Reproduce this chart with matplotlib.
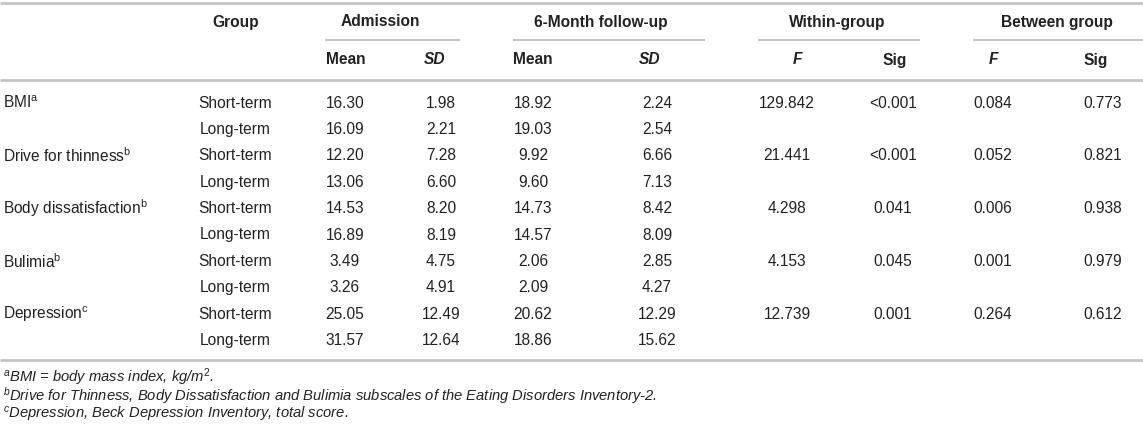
import matplotlib
matplotlib.use("Agg")
from matplotlib import pyplot as plt

# table data
measures = ["BMI", "Drive for thinness", "Body dissatisfaction", "Bulimia", "Depression"]
marks = ["a", "b", "b", "b", "c"]
groups = ["Short-term", "Long-term"]
adm_mean = [["16.30", "16.09"], ["12.20", "13.06"], ["14.53", "16.89"], ["3.49", "3.26"], ["25.05", "31.57"]]
adm_sd = [["1.98", "2.21"], ["7.28", "6.60"], ["8.20", "8.19"], ["4.75", "4.91"], ["12.49", "12.64"]]
fu_mean = [["18.92", "19.03"], ["9.92", "9.60"], ["14.73", "14.57"], ["2.06", "2.09"], ["20.62", "18.86"]]
fu_sd = [["2.24", "2.54"], ["6.66", "7.13"], ["8.42", "8.09"], ["2.85", "4.27"], ["12.29", "15.62"]]
within_f = ["129.842", "21.441", "4.298", "4.153", "12.739"]
within_sig = ["<0.001", "<0.001", "0.041", "0.045", "0.001"]
between_f = ["0.084", "0.052", "0.006", "0.001", "0.264"]
between_sig = ["0.773", "0.821", "0.938", "0.979", "0.612"]

footnotes = [
    r"$^{a}$BMI = body mass index, kg/m$^{2}$.",
    r"$^{b}$Drive for Thinness, Body Dissatisfaction and Bulimia subscales of the Eating Disorders Inventory-2.",
    r"$^{c}$Depression, Beck Depression Inventory, total score.",
]

plt.rcParams["font.family"] = ["Liberation Sans", "DejaVu Sans"]
plt.rcParams["mathtext.fontset"] = "custom"
plt.rcParams["mathtext.rm"] = "Liberation Sans"
plt.rcParams["mathtext.it"] = "Liberation Sans:italic"
plt.rcParams["mathtext.bf"] = "Liberation Sans:bold"

W, H = 1143, 432
fig = plt.figure(figsize=(W / 100, H / 100), dpi=100)
ax = fig.add_axes([0, 0, 1, 1])
ax.set_xlim(0, W)
ax.set_ylim(H, 0)
ax.axis("off")

txt = "#222222"
line_c = "#c4c4c4"
fs = 11.2

# column centres
cx = {"group": 235, "am": 345, "asd": 441, "fm": 533, "fsd": 657,
      "wf": 787, "ws": 893, "bf": 993, "bs": 1103}

# rules
for yy in [3, 80, 360]:
    ax.plot([0, W], [yy, yy], color=line_c, lw=2, solid_capstyle="butt")
for x0, x1 in [(325, 460), (513, 705), (758, 920), (973, W)]:
    ax.plot([x0, x1], [40, 40], color=line_c, lw=1.5, solid_capstyle="butt")

# header row 1
h1 = 22
ax.text(236, h1, "Group", ha="center", va="center", fontsize=fs, fontweight="bold", color=txt)
ax.text(380, h1, "Admission", ha="center", va="center", fontsize=fs, fontweight="bold", color=txt)
ax.text(601, h1, "6-Month follow-up", ha="center", va="center", fontsize=fs, fontweight="bold", color=txt)
ax.text(837, h1, "Within-group", ha="center", va="center", fontsize=fs, fontweight="bold", color=txt)
ax.text(1057, h1, "Between group", ha="center", va="center", fontsize=fs, fontweight="bold", color=txt)

# header row 2
h2 = 60
sub_heads = [(346, "Mean", "normal"), (435, "SD", "italic"), (533, "Mean", "normal"),
             (650, "SD", "italic"), (797, "F", "italic"), (895, "Sig", "normal"),
             (993, "F", "italic"), (1096, "Sig", "normal")]
for x, s, st in sub_heads:
    ax.text(x, h2, s, ha="center", va="center", fontsize=fs, fontweight="bold",
            style=st, color=txt)

# body
y0, dy = 103, 26.4
for i, m in enumerate(measures):
    for j, g in enumerate(groups):
        y = y0 + dy * (2 * i + j)
        if j == 0:
            ax.text(3, y, m + r"$^{\mathrm{" + marks[i] + "}}$", ha="left", va="center",
                    fontsize=fs, color=txt)
            ax.text(cx["wf"], y, within_f[i], ha="center", va="center", fontsize=fs, color=txt)
            ax.text(cx["ws"], y, within_sig[i], ha="center", va="center", fontsize=fs, color=txt)
            ax.text(cx["bf"], y, between_f[i], ha="center", va="center", fontsize=fs, color=txt)
            ax.text(cx["bs"], y, between_sig[i], ha="center", va="center", fontsize=fs, color=txt)
        ax.text(cx["group"], y, g, ha="center", va="center", fontsize=fs, color=txt)
        ax.text(cx["am"], y, adm_mean[i][j], ha="center", va="center", fontsize=fs, color=txt)
        ax.text(cx["asd"], y, adm_sd[i][j], ha="center", va="center", fontsize=fs, color=txt)
        ax.text(cx["fm"], y, fu_mean[i][j], ha="center", va="center", fontsize=fs, color=txt)
        ax.text(cx["fsd"], y, fu_sd[i][j], ha="center", va="center", fontsize=fs, color=txt)

# footnotes
for k, f in enumerate(footnotes):
    ax.text(3, 377 + 19 * k, f, ha="left", va="center", fontsize=10.6, style="italic", color=txt)

plt.savefig("out.png", dpi=100)
